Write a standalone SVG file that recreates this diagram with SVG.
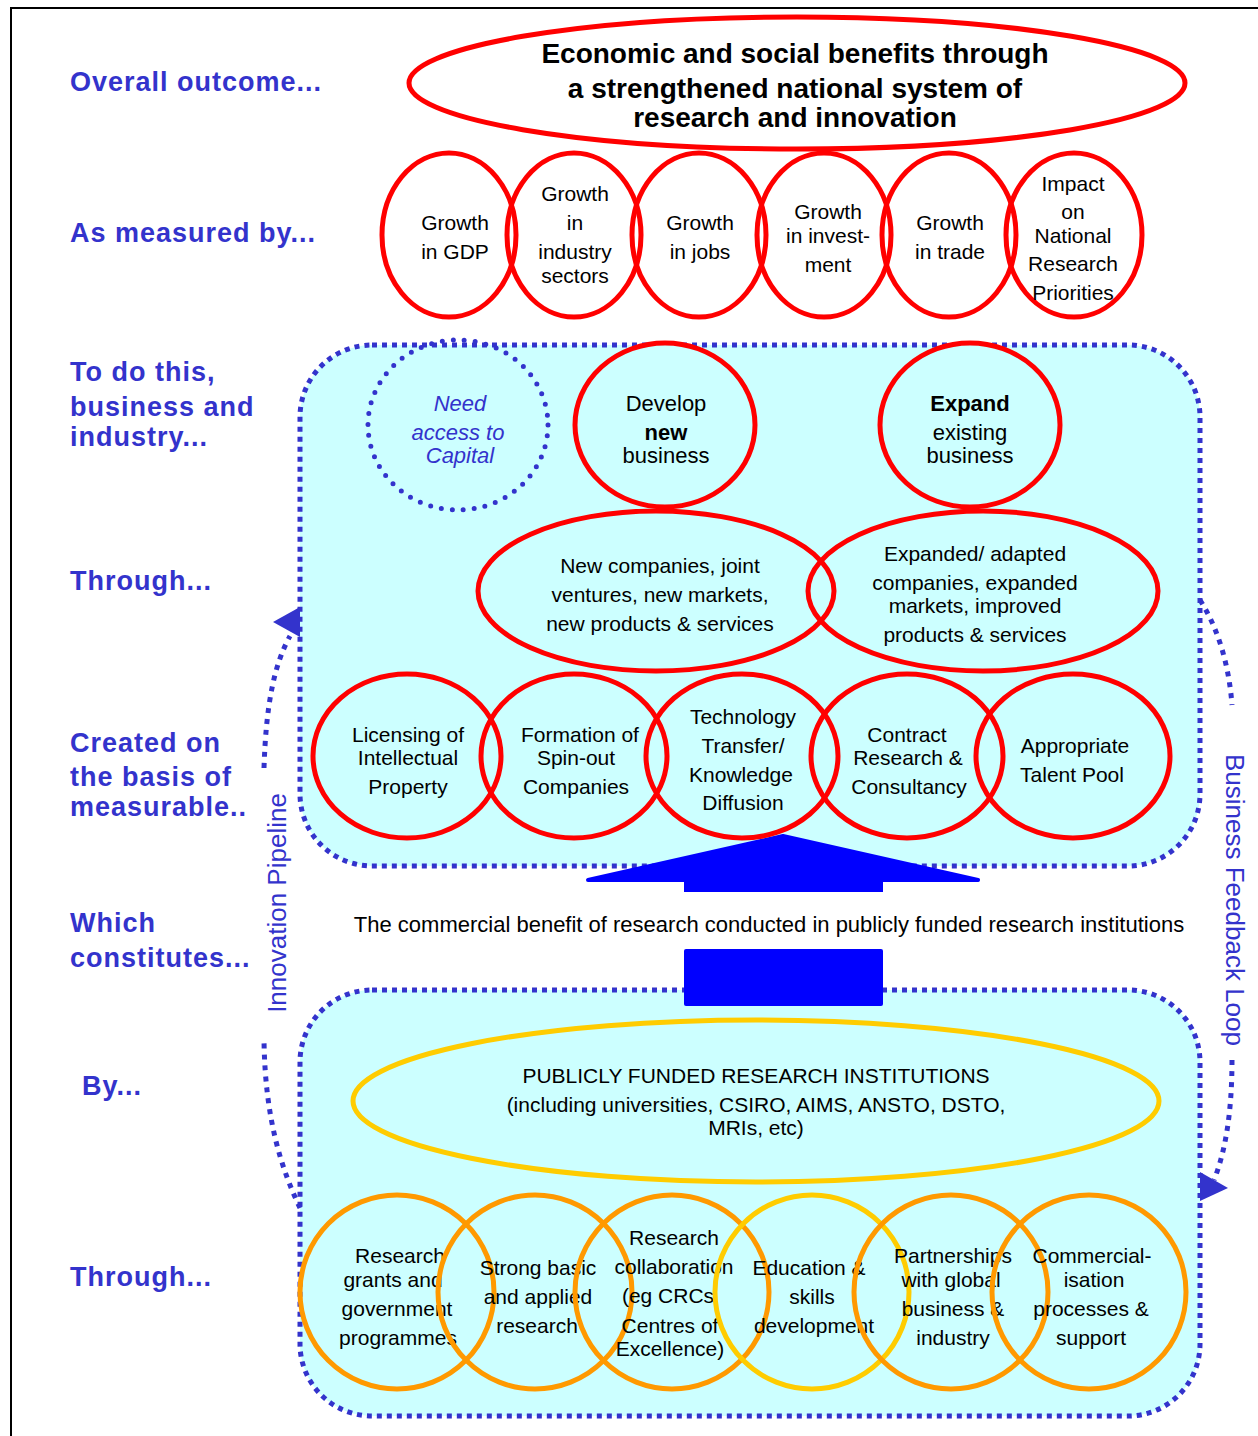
<svg xmlns="http://www.w3.org/2000/svg" width="1258" height="1436" viewBox="0 0 1258 1436">
<style>
  text { font-family: "Liberation Sans", Arial, sans-serif; fill: #000; }
  .lbl { font-size: 27px; font-weight: bold; fill: #3333CC; letter-spacing: 1px; }
  .t21 { font-size: 21px; text-anchor: middle; }
  .t22 { font-size: 22px; text-anchor: middle; }
  .title { font-size: 28px; font-weight: bold; text-anchor: middle; }
  .cap { font-size: 22px; font-style: italic; fill: #3333CC; text-anchor: middle; }
  .rot { font-size: 26px; fill: #3333CC; text-anchor: middle; }
  .red { fill: none; stroke: #FF0000; stroke-width: 5; }
  .redf { fill: #CCFFFF; stroke: #FF0000; stroke-width: 5; }
  .org { fill: none; stroke: #FF9900; stroke-width: 5; }
  .yel { fill: none; stroke: #FFCC00; stroke-width: 5; }
  .region { fill: #CCFFFF; stroke: #3333CC; stroke-width: 5; stroke-dasharray: 5 5; }
  .dots { fill: none; stroke: #3333CC; stroke-width: 5; stroke-dasharray: 5 6; }
  .big { fill: #0000FF; }
</style>

<!-- frame -->
<path d="M11 1436 V8 H1258" fill="none" stroke="#000" stroke-width="2"/>

<!-- left labels -->
<g id="labels">
  <text class="lbl" x="70" y="91">Overall outcome...</text>
  <text class="lbl" x="70" y="242">As measured by...</text>
  <text class="lbl" x="70" y="381">To do this,</text>
  <text class="lbl" x="70" y="416">business and</text>
  <text class="lbl" x="70" y="446">industry...</text>
  <text class="lbl" x="70" y="590">Through...</text>
  <text class="lbl" x="70" y="752">Created on</text>
  <text class="lbl" x="70" y="786">the basis of</text>
  <text class="lbl" x="70" y="816">measurable..</text>
  <text class="lbl" x="70" y="932">Which</text>
  <text class="lbl" x="70" y="967">constitutes...</text>
  <text class="lbl" x="82" y="1095">By...</text>
  <text class="lbl" x="70" y="1286">Through...</text>
</g>

<!-- title -->
<g id="outcome">
  <ellipse cx="797" cy="83" rx="388" ry="66" fill="#fff" stroke="#FF0000" stroke-width="5"/>
  <text class="title" x="795" y="63">Economic and social benefits through</text>
  <text class="title" x="795" y="98">a strengthened national system of</text>
  <text class="title" x="795" y="127">research and innovation</text>
</g>

<!-- measures -->
<g id="m-gdp"><ellipse class="red" cx="449" cy="235" rx="67" ry="82"/>
  <text class="t21" x="455" y="230">Growth</text><text class="t21" x="455" y="259">in GDP</text></g>
<g id="m-industry"><ellipse class="red" cx="574" cy="235" rx="67" ry="82"/>
  <text class="t21" x="575" y="201">Growth</text><text class="t21" x="575" y="230">in</text><text class="t21" x="575" y="259">industry</text><text class="t21" x="575" y="283">sectors</text></g>
<g id="m-jobs"><ellipse class="red" cx="699" cy="235" rx="67" ry="82"/>
  <text class="t21" x="700" y="230">Growth</text><text class="t21" x="700" y="259">in jobs</text></g>
<g id="m-invest"><ellipse class="red" cx="824" cy="235" rx="67" ry="82"/>
  <text class="t21" x="828" y="219">Growth</text><text class="t21" x="828" y="243">in invest-</text><text class="t21" x="828" y="272">ment</text></g>
<g id="m-trade"><ellipse class="red" cx="949" cy="235" rx="67" ry="82"/>
  <text class="t21" x="950" y="230">Growth</text><text class="t21" x="950" y="259">in trade</text></g>
<g id="m-impact"><ellipse class="red" cx="1074" cy="235" rx="68" ry="82"/>
  <text class="t21" x="1073" y="191">Impact</text><text class="t21" x="1073" y="219">on</text><text class="t21" x="1073" y="243">National</text><text class="t21" x="1073" y="271">Research</text><text class="t21" x="1073" y="300">Priorities</text></g>

<!-- regions -->
<g id="business-region"><rect class="region" x="300" y="345" width="900" height="521" rx="72" ry="72"/></g>
<g id="research-region"><rect class="region" x="300" y="990" width="900" height="426" rx="72" ry="72"/></g>

<!-- connectors -->
<g id="connectors">
  <path class="big" d="M588 880 L783 836 L978 880 Z" stroke="#0000FF" stroke-width="4" stroke-linejoin="round"/>
  <rect class="big" x="684" y="878" width="199" height="14"/>
  <rect class="big" x="684" y="949" width="199" height="57" rx="2"/>
  <path class="dots" d="M300 1208 C282 1170 265 1120 264 1040"/>
  <path class="dots" d="M264 768 C266 705 274 665 290 636"/>
  <polygon points="273,622 300,607 300,637" fill="#3333CC"/>
  <path class="dots" d="M1200 600 C1218 628 1229 665 1232 705"/>
  <path class="dots" d="M1232 1060 C1232 1110 1226 1150 1214 1180"/>
  <polygon points="1200,1172 1228,1188 1200,1201" fill="#3333CC"/>
  <text class="rot" transform="translate(286,903) rotate(-90)">Innovation Pipeline</text>
  <text class="rot" transform="translate(1226,900) rotate(90)">Business Feedback Loop</text>
  <text class="t22" x="769" y="932">The commercial benefit of research conducted in publicly funded research institutions</text>
</g>

<!-- business region nodes -->
<g id="capital"><ellipse cx="458" cy="425" rx="90" ry="85" fill="none" stroke="#3333CC" stroke-width="5" stroke-dasharray="0 11" stroke-linecap="round"/>
  <text class="cap" x="460" y="411">Need</text><text class="cap" x="458" y="440">access to</text><text class="cap" x="460" y="463">Capital</text></g>
<g id="develop"><ellipse class="redf" cx="665" cy="425" rx="90" ry="82"/>
  <text class="t22" x="666" y="411">Develop</text><text class="t22" x="666" y="440" font-weight="bold">new</text><text class="t22" x="666" y="463">business</text></g>
<g id="expand"><ellipse class="redf" cx="970" cy="425" rx="90" ry="82"/>
  <text class="t22" x="970" y="411" font-weight="bold">Expand</text><text class="t22" x="970" y="440">existing</text><text class="t22" x="970" y="463">business</text></g>
<g id="new-companies"><ellipse class="red" cx="656" cy="591" rx="178" ry="80"/>
  <text class="t21" x="660" y="573">New companies, joint</text><text class="t21" x="660" y="602">ventures, new  markets,</text><text class="t21" x="660" y="631">new products &amp; services</text></g>
<g id="expanded"><ellipse class="red" cx="983" cy="591" rx="175" ry="80"/>
  <text class="t21" x="975" y="561">Expanded/ adapted</text><text class="t21" x="975" y="590">companies, expanded</text><text class="t21" x="975" y="613">markets, improved</text><text class="t21" x="975" y="642">products &amp; services</text></g>
<g id="licensing"><ellipse class="red" cx="407" cy="756" rx="94" ry="82"/>
  <text class="t21" x="408" y="742">Licensing of</text><text class="t21" x="408" y="765">Intellectual</text><text class="t21" x="408" y="794">Property</text></g>
<g id="spinout"><ellipse class="red" cx="574" cy="756" rx="93" ry="82"/>
  <text class="t21" x="580" y="742">Formation  of</text><text class="t21" x="576" y="765">Spin-out</text><text class="t21" x="576" y="794">Companies</text></g>
<g id="transfer"><ellipse class="red" cx="742" cy="756" rx="96" ry="82"/>
  <text class="t21" x="743" y="724">Technology</text><text class="t21" x="743" y="753">Transfer/</text><text class="t21" x="741" y="782">Knowledge</text><text class="t21" x="743" y="810">Diffusion</text></g>
<g id="contract"><ellipse class="red" cx="907" cy="756" rx="96" ry="82"/>
  <text class="t21" x="907" y="742">Contract</text><text class="t21" x="908" y="765">Research &amp;</text><text class="t21" x="909" y="794">Consultancy</text></g>
<g id="talent"><ellipse class="red" cx="1073" cy="756" rx="97" ry="82"/>
  <text class="t21" x="1075" y="753">Appropriate</text><text class="t21" x="1072" y="782">Talent Pool</text></g>

<!-- research region nodes -->
<g id="institutions"><ellipse class="yel" cx="756" cy="1101" rx="403" ry="81"/>
  <text class="t21" x="756" y="1083">PUBLICLY FUNDED RESEARCH INSTITUTIONS</text>
  <text class="t21" x="756" y="1112">(including universities, CSIRO, AIMS, ANSTO, DSTO,</text>
  <text class="t21" x="756" y="1135">MRIs, etc)</text></g>
<g id="grants">
  <text class="t21" x="400" y="1263">Research</text><text class="t21" x="393" y="1287">grants and</text><text class="t21" x="397" y="1316">government</text><text class="t21" x="398" y="1345">programmes</text>
  <circle class="org" cx="397" cy="1292" r="97"/></g>
<g id="basic">
  <text class="t21" x="538" y="1275">Strong  basic</text><text class="t21" x="538" y="1304">and applied</text><text class="t21" x="537" y="1333">research</text>
  <circle class="org" cx="535" cy="1292" r="97"/></g>
<g id="collaboration">
  <text class="t21" x="674" y="1245">Research</text><text class="t21" x="674" y="1274">collaboration</text><text class="t21" x="668" y="1303">(eg CRCs</text><text class="t21" x="670" y="1333">Centres of</text><text class="t21" x="670" y="1356">Excellence)</text>
  <circle class="org" cx="672" cy="1292" r="97"/></g>
<g id="education">
  <text class="t21" x="809" y="1275">Education &amp;</text><text class="t21" x="812" y="1304">skills</text><text class="t21" x="814" y="1333">development</text>
  <circle class="yel" cx="812" cy="1292" r="97"/></g>
<g id="partnerships">
  <text class="t21" x="953" y="1263">Partnerships</text><text class="t21" x="951" y="1287">with global</text><text class="t21" x="953" y="1316">business &amp;</text><text class="t21" x="953" y="1345">industry</text>
  <circle class="org" cx="951" cy="1292" r="97"/></g>
<g id="commercialisation">
  <text class="t21" x="1092" y="1263">Commercial-</text><text class="t21" x="1094" y="1287">isation</text><text class="t21" x="1091" y="1316">processes &amp;</text><text class="t21" x="1091" y="1345">support</text>
  <circle class="org" cx="1089" cy="1292" r="97"/></g>
</svg>
